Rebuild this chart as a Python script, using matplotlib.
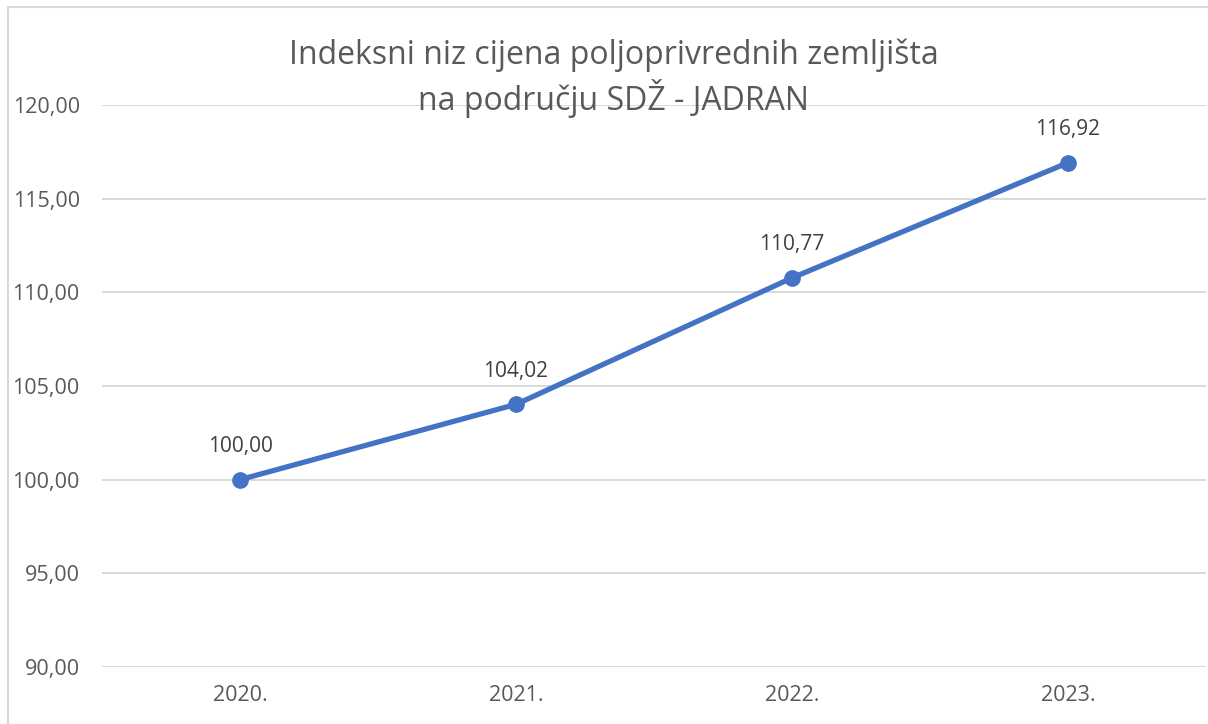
import matplotlib
matplotlib.use("Agg")
import matplotlib.pyplot as plt
from matplotlib.patches import Rectangle

years = ["2020.", "2021.", "2022.", "2023."]
values = [100.00, 104.02, 110.77, 116.92]
yticks = [90, 95, 100, 105, 110, 115, 120]
title = "Indeksni niz cijena poljoprivrednih zemljišta\nna području SDŽ - JADRAN"

plt.rcParams['font.family'] = ['Open Sans', 'DejaVu Sans']

W, H = 1208, 724
fig = plt.figure(figsize=(W / 100, H / 100), dpi=100)
fig.patch.set_facecolor("white")

# outer chart border (partially cropped)
fig.patches.append(Rectangle((8 / W, -0.1), 1.2, 1 - 7 / H + 0.1,
                             transform=fig.transFigure, fill=False,
                             edgecolor="#D9D9D9", linewidth=1.5))

left, right = 102 / W, 1206 / W
bottom, top = 1 - 667 / H, 1 - 105 / H
ax = fig.add_axes([left, bottom, right - left, top - bottom])
ax.set_facecolor("none")

x = list(range(len(years)))
ax.plot(x, values, color="#4472C4", linewidth=3.8, marker="o",
        markersize=11, solid_capstyle="round", zorder=3)

for xi, v in zip(x, values):
    ax.annotate(f"{v:.2f}".replace(".", ","), (xi, v), xytext=(0, 24),
                textcoords="offset points", ha="center", va="center",
                fontsize=15, color="#404040")

ax.set_xlim(-0.5, len(years) - 0.5)
ax.set_ylim(90, 120)
ax.set_yticks(yticks)
ax.set_yticklabels([f"{t:.2f}".replace(".", ",") for t in yticks])
ax.set_xticks(x)
ax.set_xticklabels(years)
ax.tick_params(axis="both", length=0, labelsize=15.5, labelcolor="#595959")
ax.tick_params(axis="y", pad=16)
ax.tick_params(axis="x", pad=13)
ax.grid(axis="y", color="#D9D9D9", linewidth=1.4)
ax.set_axisbelow(True)
for s in ax.spines.values():
    s.set_visible(False)

fig.text(0.508, 1 - 38 / H, title, ha="center", va="top", fontsize=23,
         color="#595959", linespacing=1.25)

fig.savefig("out.png", dpi=100)
